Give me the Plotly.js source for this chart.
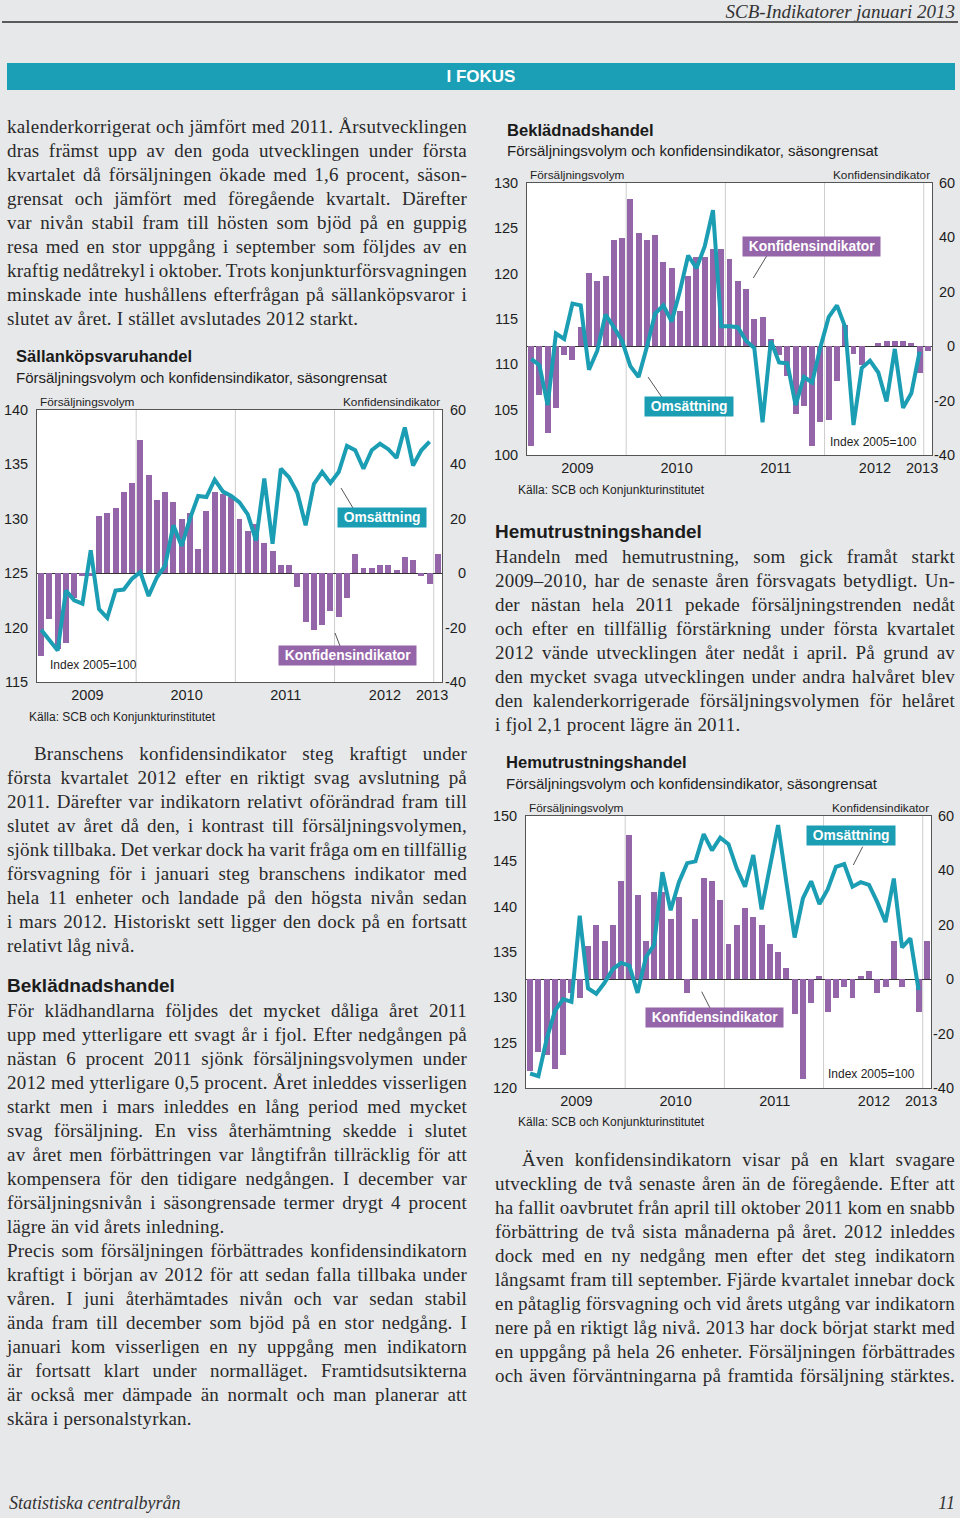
<!DOCTYPE html>
<html><head><meta charset="utf-8">
<script src="https://cdn.plot.ly/plotly-3.0.1.min.js"></script>
<style>
html,body{margin:0;padding:0;}
body{width:960px;height:1518px;background:#e7e8ea;position:relative;overflow:hidden;font-family:"Liberation Serif","Times New Roman",serif;color:#2a2a2a;}
.ln{position:absolute;height:24px;line-height:24px;font-size:19px;letter-spacing:0.2px;white-space:pre;}
.ln span{display:inline-block;white-space:pre;}
.hd{position:absolute;font-family:"Liberation Sans",Arial,sans-serif;font-weight:700;font-size:19px;color:#1c1c1c;line-height:24px;height:24px;}
#hdr{position:absolute;right:5px;top:0;height:24px;line-height:24px;font-style:italic;font-size:19px;color:#333;}
#hdrline{position:absolute;left:2px;right:2px;top:21px;height:2px;background:#5a5a5a;}
#band{position:absolute;left:7px;width:948px;top:63px;height:27px;background:#1a9fb6;color:#fff;font-family:"Liberation Sans",Arial,sans-serif;font-weight:700;font-size:17px;line-height:27px;text-align:center;}
#foot1{position:absolute;left:9px;top:1491px;height:24px;line-height:24px;font-style:italic;font-size:18px;color:#333;}
#foot2{position:absolute;right:5px;top:1491px;height:24px;line-height:24px;font-style:italic;font-size:18px;color:#333;}
.chart{position:absolute;}
</style></head><body>
<div id="hdr">SCB-Indikatorer januari 2013</div>
<div id="hdrline"></div>
<div id="band">I FOKUS</div>
<div class="hd" style="left:7px;top:974px;">Beklädnadshandel</div>
<div class="hd" style="left:495px;top:520px;">Hemutrustningshandel</div>
<div id="foot1">Statistiska centralbyrån</div>
<div id="foot2">11</div>
<div id="c1" class="chart" style="left:0px;top:340px;"></div>
<div id="c2" class="chart" style="left:490px;top:110px;"></div>
<div id="c3" class="chart" style="left:490px;top:745px;"></div>
<script>
// ---------- DATA ----------
const years = ['2009','2010','2011','2012','2013'];
const months = ['2009-01','2009-02','2009-03','2009-04','2009-05','2009-06','2009-07','2009-08','2009-09','2009-10','2009-11','2009-12',
 '2010-01','2010-02','2010-03','2010-04','2010-05','2010-06','2010-07','2010-08','2010-09','2010-10','2010-11','2010-12',
 '2011-01','2011-02','2011-03','2011-04','2011-05','2011-06','2011-07','2011-08','2011-09','2011-10','2011-11','2011-12',
 '2012-01','2012-02','2012-03','2012-04','2012-05','2012-06','2012-07','2012-08','2012-09','2012-10','2012-11','2012-12',
 '2013-01'];
const konfTicks = [-40,-20,0,20,40,60];
const konfTickText = ['-40','-20','0','20','40','60'];

// Sällanköpsvaruhandel
const sallVolym = [119.8,118.9,117.9,123.4,122.5,122.2,127.1,121.7,120.9,123.4,123.5,124.5,
 125.1,122.9,124.6,125.7,129.4,127.5,130.0,132.1,132.0,133.6,132.5,132.1,
 131.5,130.4,128.0,133.7,127.7,134.6,133.8,132.4,129.4,133.2,134.3,133.3,
 134.3,136.7,136.3,134.6,136.3,136.9,136.4,135.6,138.4,134.9,136.3,137.1];
const sallKonf = [-30.5,-17,-28,-25.5,-9,-1,-1,21,22,24,30,33,
 49,36,27,30,26,20,22,9,23,30,29,28,
 20,15.6,18,11,8,3,3,-5,-18,-21,-19,-14,
 -16,-9,7,2,2,3,3,1,6,5,-1,-4,
 7];
const sallTicks = [115,120,125,130,135,140];

// Beklädnadshandel
const bekVolym = [110.6,109.9,105.5,113.4,112.8,116.7,116.5,109.4,111.5,115.5,114.1,112.6,
 109.8,108.6,111.9,115.6,116.5,114.7,118.1,122.0,120.6,123.0,127.0,114.2,
 114.2,114.1,112.6,111.8,103.6,112.6,110.2,110.1,105.5,108.6,108.0,111.9,
 115.2,116.5,114.1,103.3,109.6,110.4,109.1,105.9,111.7,105.2,106.8,111.4];
const bekKonf = [-36.8,-18,-31.9,-22.9,-3.1,-4.9,6.9,27,23.9,25.9,39,39.9,
 54,41.8,39,40.9,30.8,28.8,13,25.8,32.7,32.8,35.9,35.9,
 31.9,23.9,21,9.9,10.8,2.8,-3.3,-10.9,-25,-22,-36.8,-27.9,
 -27,-12.8,7.8,-2.8,-6.8,0,1,2,2,2,1,-9.8,
 -1.7];
const bekTicks = [100,105,110,115,120,125,130];

// Hemutrustningshandel
const hemVolym = [121.6,121.3,125.4,128.5,129.8,129.5,139.0,131.0,130.4,131.6,133.1,133.8,
 133.5,130.5,134.4,135.8,143.8,139.6,142.7,144.8,145.0,148.0,146.2,147.6,
 146.9,144.2,142.2,145.7,139.7,144.4,149.0,142.7,136.6,140.9,142.8,140.3,
 141.9,144.4,144.7,142.2,142.7,142.4,140.5,138.3,143.1,135.5,136.5,130.8];
const hemKonf = [-33.7,-26.7,-27.9,-32.9,-27.9,-4.9,-7,12.2,20,14.1,20,36.2,
 53,31,14.1,32.1,32,22.1,30.1,-4.9,22.1,37.1,36.2,29.1,
 13.1,20,26,22.9,20,13.1,10.1,4,-12.9,-36.8,-8.8,1.2,
 -11.9,-7,-2.7,-7,1.1,3.1,-4.9,-2.8,14.1,-2.8,0,-11.9,
 14.1];
const hemTicks = [120,125,130,135,140,145,150];

const lblVolym = 'Försäljningsvolym';
const lblKonf = 'Konfidensindikator';
const lblOms = 'Omsättning';
const lblIndex = 'Index 2005=100';
const lblKalla = 'Källa: SCB och Konjunkturinstitutet';
const lblSub = 'Försäljningsvolym och konfidensindikator, säsongrensat';

// ---------- TEXT ----------
const blocks = [
 {x:7,y:127,w:460,ind:0,last:true,lines:[
  'kalenderkorrigerat och jämfört med 2011. Årsutvecklingen',
  'dras främst upp av den goda utvecklingen under första',
  'kvartalet då försäljningen ökade med 1,6 procent, säson-',
  'grensat och jämfört med föregående kvartalt. Därefter',
  'var nivån stabil fram till hösten som bjöd på en guppig',
  'resa med en stor uppgång i september som följdes av en',
  'kraftig nedåtrekyl i oktober. Trots konjunkturförsvagningen',
  'minskade inte hushållens efterfrågan på sällanköpsvaror i',
  'slutet av året. I stället avslutades 2012 starkt.']},
 {x:7,y:754,w:460,ind:27,last:true,lines:[
  'Branschens konfidensindikator steg kraftigt under',
  'första kvartalet 2012 efter en riktigt svag avslutning på',
  '2011. Därefter var indikatorn relativt oförändrad fram till',
  'slutet av året då den, i kontrast till försäljningsvolymen,',
  'sjönk tillbaka. Det verkar dock ha varit fråga om en tillfällig',
  'försvagning för i januari steg branschens indikator med',
  'hela 11 enheter och landade på den högsta nivån sedan',
  'i mars 2012. Historiskt sett ligger den dock på en fortsatt',
  'relativt låg nivå.']},
 {x:7,y:1011,w:460,ind:0,last:true,lines:[
  'För klädhandlarna följdes det mycket dåliga året 2011',
  'upp med ytterligare ett svagt år i fjol. Efter nedgången på',
  'nästan 6 procent 2011 sjönk försäljningsvolymen under',
  '2012 med ytterligare 0,5 procent. Året inleddes visserligen',
  'starkt men i mars inleddes en lång period med mycket',
  'svag försäljning. En viss återhämtning skedde i slutet',
  'av året men förbättringen var långtifrån tillräcklig för att',
  'kompensera för den tidigare nedgången. I december var',
  'försäljningsnivån i säsongrensade termer drygt 4 procent',
  'lägre än vid årets inledning.']},
 {x:7,y:1251,w:460,ind:0,last:true,lines:[
  'Precis som försäljningen förbättrades konfidensindikatorn',
  'kraftigt i början av 2012 för att sedan falla tillbaka under',
  'våren. I juni återhämtades nivån och var sedan stabil',
  'ända fram till december som bjöd på en stor nedgång. I',
  'januari kom visserligen en ny uppgång men indikatorn',
  'är fortsatt klart under normalläget. Framtidsutsikterna',
  'är också mer dämpade än normalt och man planerar att',
  'skära i personalstyrkan.']},
 {x:495,y:557,w:460,ind:0,last:true,lines:[
  'Handeln med hemutrustning, som gick framåt starkt',
  '2009–2010, har de senaste åren försvagats betydligt. Un-',
  'der nästan hela 2011 pekade försäljningstrenden nedåt',
  'och efter en tillfällig förstärkning under första kvartalet',
  '2012 vände utvecklingen åter nedåt i april. På grund av',
  'den mycket svaga utvecklingen under andra halvåret blev',
  'den kalenderkorrigerade försäljningsvolymen för helåret',
  'i fjol 2,1 procent lägre än 2011.']},
 {x:495,y:1160,w:460,ind:27,last:false,lines:[
  'Även konfidensindikatorn visar på en klart svagare',
  'utveckling de två senaste åren än de föregående. Efter att',
  'ha fallit oavbrutet från april till oktober 2011 kom en snabb',
  'förbättring de två sista månaderna på året. 2012 inleddes',
  'dock med en ny nedgång men efter det steg indikatorn',
  'långsamt fram till september. Fjärde kvartalet innebar dock',
  'en påtaglig försvagning och vid årets utgång var indikatorn',
  'nere på en riktigt låg nivå. 2013 har dock börjat starkt med',
  'en uppgång på hela 26 enheter. Försäljningen förbättrades',
  'och även förväntningarna på framtida försäljning stärktes.']}
];
const spans = [];
blocks.forEach(b => {
  b.lines.forEach((t, i) => {
    const d = document.createElement('div');
    d.className = 'ln';
    const indent = (i === 0) ? b.ind : 0;
    d.style.left = (b.x + indent) + 'px';
    d.style.top = (b.y + i * 24 - 12) + 'px';
    const s = document.createElement('span');
    s.textContent = t;
    d.appendChild(s);
    document.body.appendChild(d);
    const isLast = (i === b.lines.length - 1) && b.last;
    spans.push({s, t, target: b.w - indent, just: !isLast});
  });
});
function justify() {
  spans.forEach(o => {
    o.s.style.wordSpacing = '0px';
    const w = o.s.getBoundingClientRect().width;
    const n = (o.t.match(/ /g) || []).length;
    if (o.just && n > 0) o.s.style.wordSpacing = ((o.target - w) / n) + 'px';
    else if (w > o.target && n > 0) o.s.style.wordSpacing = ((o.target - w) / n) + 'px';
  });
}
justify();
if (document.fonts && document.fonts.ready) document.fonts.ready.then(justify);

// ---------- CHARTS ----------
const idx = months.map((m, i) => i);
const TEAL = '#1b9db3', PURPLE = '#9565a9', SANS = '"Liberation Sans", Arial, sans-serif';
const yearPos = [5.6, 17.6, 29.6, 41.6, 47.3];

const charts = [
 {id:'c1', left:0, top:340, w:480, h:390, m:{l:37,r:38,t:70,b:48},
  title:'Sällanköpsvaruhandel', vol:sallVolym, konf:sallKonf, vr:[115,140], vt:sallTicks, rX:468,
  titleP:[14,356], subP:[14,377], volP:[38,402], konfP:[442,402], idxP:[48,665,'left'], kallaP:[27,717],
  omsBox:[381.5,517.5], konfBox:[347.5,655], omsPtr:[341,488,353,508], konfPtr:[335,633,340,646]},
 {id:'c2', left:490, top:110, w:470, h:390, m:{l:37,r:28,t:73,b:45},
  title:'Beklädnadshandel', vol:bekVolym, konf:bekKonf, vr:[100,130], vt:bekTicks, rX:957,
  titleP:[505,130], subP:[505,151], volP:[528,175], konfP:[932,175], idxP:[919,442,'right'], kallaP:[516,490],
  omsBox:[689,406.5], konfBox:[811.5,246.5], omsPtr:[648,377,661.7,397], konfPtr:[766.7,256,753.3,278]},
 {id:'c3', left:490, top:745, w:470, h:390, m:{l:36,r:29,t:71,b:47},
  title:'Hemutrustningshandel', vol:hemVolym, konf:hemKonf, vr:[120,150], vt:hemTicks, rX:956,
  titleP:[504,762], subP:[504,783], volP:[527,808], konfP:[931,808], idxP:[917,1074,'right'], kallaP:[516,1122],
  omsBox:[850.5,836], konfBox:[714.5,1017], omsPtr:[862.7,846.7,853.3,865], konfPtr:[701.7,991.7,710,1008]}
];

charts.forEach(c => {
  const pw = c.w - c.m.l - c.m.r, ph = c.h - c.m.t - c.m.b;
  const P = (X, Y) => ({x: (X - c.left - c.m.l) / pw, y: 1 - (Y - c.top - c.m.t) / ph});
  const txt = (text, X, Y, size, anchor, extra) => {
    const p = P(X, Y);
    return Object.assign({xref:'paper', yref:'paper', x:p.x, y:p.y, text:text, showarrow:false,
      xanchor:anchor || 'left', yanchor:'middle', font:{family:SANS, size:size, color:'#1e1e1e'}}, extra || {});
  };
  const box = (text, pos, color) => {
    const p = P(pos[0], pos[1]);
    return {xref:'paper', yref:'paper', x:p.x, y:p.y, text:'\u00a0' + text + '\u00a0', showarrow:false,
      xanchor:'center', yanchor:'middle', bgcolor:color, borderpad:2,
      font:{family:SANS, size:13.8, color:'#fff', weight:700}};
  };
  const ptr = q => {
    const a = P(q[0], q[1]), b = P(q[2], q[3]);
    return {type:'line', xref:'paper', yref:'paper', x0:a.x, y0:a.y, x1:b.x, y1:b.y, line:{color:'#555', width:1}};
  };
  const grid = [11.5, 23.5, 35.5, 47.5].map(v => ({type:'line', xref:'x', yref:'paper', x0:v, x1:v, y0:0, y1:1,
    layer:'below', line:{color:'#cdcdcd', width:1}}));
  const rightLabels = konfTicks.map((v, i) => ({xref:'paper', yref:'y', x:P(c.rX, 0).x, y:v,
    text:konfTickText[i], showarrow:false, xanchor:'right', yanchor:'middle',
    font:{family:SANS, size:14.5, color:'#1e1e1e'}}));

  const traces = [
    {type:'bar', x:idx, y:c.konf, yaxis:'y', width:0.72, marker:{color:PURPLE, line:{width:0}}, hoverinfo:'skip'},
    {type:'scatter', mode:'lines', x:idx.slice(0, c.vol.length), y:c.vol, yaxis:'y2',
      line:{color:TEAL, width:4}, hoverinfo:'skip'}
  ];
  const layout = {
    width:c.w, height:c.h, margin:c.m, paper_bgcolor:'rgba(0,0,0,0)', plot_bgcolor:'#ffffff',
    showlegend:false, bargap:0,
    font:{family:SANS, size:14.5, color:'#1e1e1e'},
    xaxis:{range:[-0.5,48.5], tickvals:yearPos, ticktext:years, showgrid:false, zeroline:false,
      showline:true, mirror:true, linecolor:'#555', linewidth:1, ticks:'', ticklen:0,
      tickfont:{size:14.5}, fixedrange:true},
    yaxis:{side:'right', range:[-40,60], tickvals:konfTicks, showticklabels:false, showgrid:false, zeroline:true,
      zerolinecolor:'#333', zerolinewidth:1, showline:true, mirror:true, linecolor:'#555', linewidth:1,
      ticks:'', fixedrange:true},
    yaxis2:{overlaying:'y', side:'left', range:c.vr, tickvals:c.vt, showgrid:false, zeroline:false,
      showline:false, ticks:'outside', ticklen:5, tickcolor:'rgba(0,0,0,0)', tickfont:{size:14.5}, fixedrange:true},
    shapes: grid.concat([ptr(c.omsPtr), ptr(c.konfPtr)]),
    annotations:[
      txt(c.title, c.titleP[0], c.titleP[1], 16.6, 'left', {font:{family:SANS, size:16.6, color:'#1a1a1a', weight:700}}),
      txt(lblSub, c.subP[0], c.subP[1], 15),
      txt(lblVolym, c.volP[0], c.volP[1], 11.8),
      txt(lblKonf, c.konfP[0], c.konfP[1], 11.8, 'right'),
      txt(lblIndex, c.idxP[0], c.idxP[1], 12, c.idxP[2]),
      txt(lblKalla, c.kallaP[0], c.kallaP[1], 12),
      box(lblOms, c.omsBox, TEAL),
      box(lblKonf, c.konfBox, PURPLE)
    ].concat(rightLabels)
  };
  Plotly.newPlot(c.id, traces, layout, {staticPlot:true, displayModeBar:false});
});
</script>
</body></html>
